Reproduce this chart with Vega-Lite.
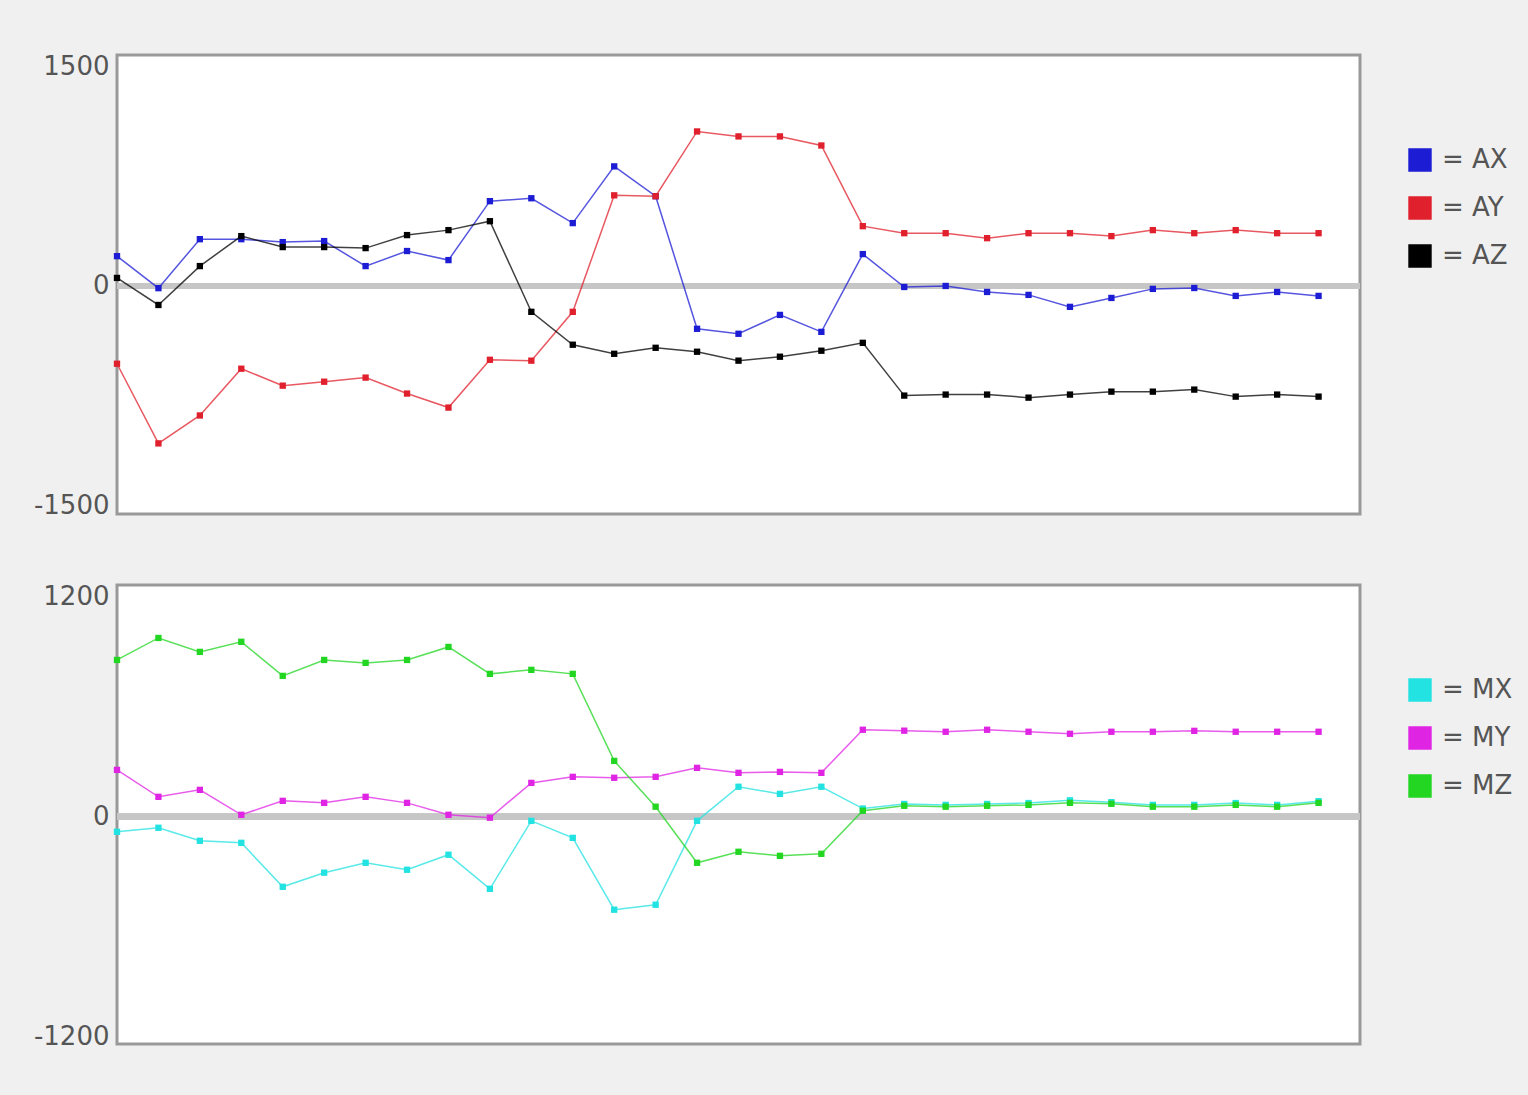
{
  "$schema": "https://vega.github.io/schema/vega-lite/v6.json",
  "background": "#f0f0f0",
  "padding": {"left": 31, "top": 52, "right": 164, "bottom": 50},
  "spacing": 62,
  "config": {
    "view": {"fill": "white", "stroke": "#999999", "strokeWidth": 3},
    "axis": {"labelFont": "DejaVu Sans", "labelFontSize": 26, "labelColor": "#555555"},
    "legend": {"labelFont": "DejaVu Sans", "labelFontSize": 26, "labelColor": "#555555"}
  },
  "datasets": {
    "acc": [
      {"i": 0, "s": "AX", "v": 204}, {"i": 1, "s": "AX", "v": -15}, {"i": 2, "s": "AX", "v": 320}, {"i": 3, "s": "AX", "v": 320}, {"i": 4, "s": "AX", "v": 300}, {"i": 5, "s": "AX", "v": 307}, {"i": 6, "s": "AX", "v": 136}, {"i": 7, "s": "AX", "v": 239}, {"i": 8, "s": "AX", "v": 177}, {"i": 9, "s": "AX", "v": 580},
      {"i": 10, "s": "AX", "v": 600}, {"i": 11, "s": "AX", "v": 430}, {"i": 12, "s": "AX", "v": 818}, {"i": 13, "s": "AX", "v": 614}, {"i": 14, "s": "AX", "v": -293}, {"i": 15, "s": "AX", "v": -327}, {"i": 16, "s": "AX", "v": -198}, {"i": 17, "s": "AX", "v": -314}, {"i": 18, "s": "AX", "v": 218}, {"i": 19, "s": "AX", "v": -7},
      {"i": 20, "s": "AX", "v": 0}, {"i": 21, "s": "AX", "v": -41}, {"i": 22, "s": "AX", "v": -61}, {"i": 23, "s": "AX", "v": -143}, {"i": 24, "s": "AX", "v": -82}, {"i": 25, "s": "AX", "v": -20}, {"i": 26, "s": "AX", "v": -14}, {"i": 27, "s": "AX", "v": -68}, {"i": 28, "s": "AX", "v": -41}, {"i": 29, "s": "AX", "v": -68},
      {"i": 0, "s": "AY", "v": -532}, {"i": 1, "s": "AY", "v": -1077}, {"i": 2, "s": "AY", "v": -886}, {"i": 3, "s": "AY", "v": -566}, {"i": 4, "s": "AY", "v": -682}, {"i": 5, "s": "AY", "v": -655}, {"i": 6, "s": "AY", "v": -627}, {"i": 7, "s": "AY", "v": -736}, {"i": 8, "s": "AY", "v": -832}, {"i": 9, "s": "AY", "v": -505},
      {"i": 10, "s": "AY", "v": -511}, {"i": 11, "s": "AY", "v": -177}, {"i": 12, "s": "AY", "v": 620}, {"i": 13, "s": "AY", "v": 614}, {"i": 14, "s": "AY", "v": 1057}, {"i": 15, "s": "AY", "v": 1023}, {"i": 16, "s": "AY", "v": 1023}, {"i": 17, "s": "AY", "v": 961}, {"i": 18, "s": "AY", "v": 409}, {"i": 19, "s": "AY", "v": 361},
      {"i": 20, "s": "AY", "v": 361}, {"i": 21, "s": "AY", "v": 327}, {"i": 22, "s": "AY", "v": 361}, {"i": 23, "s": "AY", "v": 361}, {"i": 24, "s": "AY", "v": 341}, {"i": 25, "s": "AY", "v": 382}, {"i": 26, "s": "AY", "v": 361}, {"i": 27, "s": "AY", "v": 382}, {"i": 28, "s": "AY", "v": 361}, {"i": 29, "s": "AY", "v": 361},
      {"i": 0, "s": "AZ", "v": 55}, {"i": 1, "s": "AZ", "v": -130}, {"i": 2, "s": "AZ", "v": 136}, {"i": 3, "s": "AZ", "v": 341}, {"i": 4, "s": "AZ", "v": 266}, {"i": 5, "s": "AZ", "v": 266}, {"i": 6, "s": "AZ", "v": 259}, {"i": 7, "s": "AZ", "v": 348}, {"i": 8, "s": "AZ", "v": 382}, {"i": 9, "s": "AZ", "v": 443},
      {"i": 10, "s": "AZ", "v": -177}, {"i": 11, "s": "AZ", "v": -402}, {"i": 12, "s": "AZ", "v": -464}, {"i": 13, "s": "AZ", "v": -423}, {"i": 14, "s": "AZ", "v": -450}, {"i": 15, "s": "AZ", "v": -511}, {"i": 16, "s": "AZ", "v": -484}, {"i": 17, "s": "AZ", "v": -443}, {"i": 18, "s": "AZ", "v": -389}, {"i": 19, "s": "AZ", "v": -750},
      {"i": 20, "s": "AZ", "v": -743}, {"i": 21, "s": "AZ", "v": -743}, {"i": 22, "s": "AZ", "v": -764}, {"i": 23, "s": "AZ", "v": -743}, {"i": 24, "s": "AZ", "v": -723}, {"i": 25, "s": "AZ", "v": -723}, {"i": 26, "s": "AZ", "v": -709}, {"i": 27, "s": "AZ", "v": -757}, {"i": 28, "s": "AZ", "v": -743}, {"i": 29, "s": "AZ", "v": -757}
    ],
    "mag": [
      {"i": 0, "s": "MX", "v": -82}, {"i": 1, "s": "MX", "v": -60}, {"i": 2, "s": "MX", "v": -131}, {"i": 3, "s": "MX", "v": -142}, {"i": 4, "s": "MX", "v": -382}, {"i": 5, "s": "MX", "v": -305}, {"i": 6, "s": "MX", "v": -251}, {"i": 7, "s": "MX", "v": -289}, {"i": 8, "s": "MX", "v": -207}, {"i": 9, "s": "MX", "v": -393},
      {"i": 10, "s": "MX", "v": -22}, {"i": 11, "s": "MX", "v": -115}, {"i": 12, "s": "MX", "v": -507}, {"i": 13, "s": "MX", "v": -480}, {"i": 14, "s": "MX", "v": -22}, {"i": 15, "s": "MX", "v": 164}, {"i": 16, "s": "MX", "v": 125}, {"i": 17, "s": "MX", "v": 164}, {"i": 18, "s": "MX", "v": 45}, {"i": 19, "s": "MX", "v": 70},
      {"i": 20, "s": "MX", "v": 65}, {"i": 21, "s": "MX", "v": 70}, {"i": 22, "s": "MX", "v": 75}, {"i": 23, "s": "MX", "v": 90}, {"i": 24, "s": "MX", "v": 80}, {"i": 25, "s": "MX", "v": 65}, {"i": 26, "s": "MX", "v": 65}, {"i": 27, "s": "MX", "v": 75}, {"i": 28, "s": "MX", "v": 65}, {"i": 29, "s": "MX", "v": 85},
      {"i": 0, "s": "MY", "v": 256}, {"i": 1, "s": "MY", "v": 109}, {"i": 2, "s": "MY", "v": 147}, {"i": 3, "s": "MY", "v": 11}, {"i": 4, "s": "MY", "v": 87}, {"i": 5, "s": "MY", "v": 76}, {"i": 6, "s": "MY", "v": 109}, {"i": 7, "s": "MY", "v": 76}, {"i": 8, "s": "MY", "v": 11}, {"i": 9, "s": "MY", "v": -5},
      {"i": 10, "s": "MY", "v": 185}, {"i": 11, "s": "MY", "v": 218}, {"i": 12, "s": "MY", "v": 213}, {"i": 13, "s": "MY", "v": 218}, {"i": 14, "s": "MY", "v": 267}, {"i": 15, "s": "MY", "v": 240}, {"i": 16, "s": "MY", "v": 245}, {"i": 17, "s": "MY", "v": 240}, {"i": 18, "s": "MY", "v": 475}, {"i": 19, "s": "MY", "v": 470},
      {"i": 20, "s": "MY", "v": 464}, {"i": 21, "s": "MY", "v": 475}, {"i": 22, "s": "MY", "v": 464}, {"i": 23, "s": "MY", "v": 453}, {"i": 24, "s": "MY", "v": 464}, {"i": 25, "s": "MY", "v": 464}, {"i": 26, "s": "MY", "v": 469}, {"i": 27, "s": "MY", "v": 464}, {"i": 28, "s": "MY", "v": 464}, {"i": 29, "s": "MY", "v": 464},
      {"i": 0, "s": "MZ", "v": 856}, {"i": 1, "s": "MZ", "v": 976}, {"i": 2, "s": "MZ", "v": 900}, {"i": 3, "s": "MZ", "v": 955}, {"i": 4, "s": "MZ", "v": 769}, {"i": 5, "s": "MZ", "v": 856}, {"i": 6, "s": "MZ", "v": 840}, {"i": 7, "s": "MZ", "v": 856}, {"i": 8, "s": "MZ", "v": 927}, {"i": 9, "s": "MZ", "v": 780},
      {"i": 10, "s": "MZ", "v": 802}, {"i": 11, "s": "MZ", "v": 780}, {"i": 12, "s": "MZ", "v": 305}, {"i": 13, "s": "MZ", "v": 55}, {"i": 14, "s": "MZ", "v": -251}, {"i": 15, "s": "MZ", "v": -191}, {"i": 16, "s": "MZ", "v": -213}, {"i": 17, "s": "MZ", "v": -202}, {"i": 18, "s": "MZ", "v": 33}, {"i": 19, "s": "MZ", "v": 60},
      {"i": 20, "s": "MZ", "v": 55}, {"i": 21, "s": "MZ", "v": 60}, {"i": 22, "s": "MZ", "v": 65}, {"i": 23, "s": "MZ", "v": 76}, {"i": 24, "s": "MZ", "v": 71}, {"i": 25, "s": "MZ", "v": 55}, {"i": 26, "s": "MZ", "v": 55}, {"i": 27, "s": "MZ", "v": 65}, {"i": 28, "s": "MZ", "v": 55}, {"i": 29, "s": "MZ", "v": 76}
    ]
  },
  "resolve": {"scale": {"color": "independent", "y": "independent"}, "legend": {"color": "independent"}},
  "vconcat": [
    {
      "width": 1243,
      "height": 459,
      "data": {"name": "acc"},
      "encoding": {
        "x": {"field": "i", "type": "quantitative", "scale": {"domain": [0, 30], "nice": false, "zero": false}, "axis": null},
        "y": {"field": "v", "type": "quantitative", "scale": {"domain": [-1560, 1580], "nice": false},
          "axis": {"values": [-1500, 0, 1500], "grid": false, "ticks": false, "domain": false, "labelPadding": 8, "title": null,
            "labelExpr": "datum.value == 0 ? '0' : (datum.value < 0 ? '-' : '') + abs(datum.value)"}},
        "color": {"field": "s", "type": "nominal", "scale": {"domain": ["AX", "AY", "AZ"], "range": ["#1c1cd4", "#e0202c", "#000000"]},
          "legend": {"orient": "none", "legendX": 1290, "legendY": 92, "title": null, "symbolType": "square", "symbolSize": 480, "symbolOpacity": 1, "labelOffset": 9, "rowPadding": 20, "labelExpr": "'= ' + datum.label"}}
      },
      "layer": [
        {
          "mark": {"type": "rule", "color": "#c6c6c6", "strokeWidth": 6},
          "encoding": {"y": {"datum": 0, "type": "quantitative"}, "x": null, "color": null}
        },
        {
          "mark": {"type": "line", "strokeWidth": 1.5, "opacity": 0.75}
        },
        {
          "mark": {"type": "point", "shape": "square", "filled": true, "size": 40, "opacity": 1}
        }
      ]
    },
    {
      "width": 1243,
      "height": 459,
      "data": {"name": "mag"},
      "encoding": {
        "x": {"field": "i", "type": "quantitative", "scale": {"domain": [0, 30], "nice": false, "zero": false}, "axis": null},
        "y": {"field": "v", "type": "quantitative", "scale": {"domain": [-1240, 1265], "nice": false},
          "axis": {"values": [-1200, 0, 1200], "grid": false, "ticks": false, "domain": false, "labelPadding": 8, "title": null,
            "labelExpr": "datum.value == 0 ? '0' : (datum.value < 0 ? '-' : '') + abs(datum.value)"}},
        "color": {"field": "s", "type": "nominal", "scale": {"domain": ["MX", "MY", "MZ"], "range": ["#22e2e2", "#e024e4", "#22d622"]},
          "legend": {"orient": "none", "legendX": 1290, "legendY": 92, "title": null, "symbolType": "square", "symbolSize": 480, "symbolOpacity": 1, "labelOffset": 9, "rowPadding": 20, "labelExpr": "'= ' + datum.label"}}
      },
      "layer": [
        {
          "mark": {"type": "rule", "color": "#c6c6c6", "strokeWidth": 6},
          "encoding": {"y": {"datum": 0, "type": "quantitative"}, "x": null, "color": null}
        },
        {
          "mark": {"type": "line", "strokeWidth": 1.5, "opacity": 0.75}
        },
        {
          "mark": {"type": "point", "shape": "square", "filled": true, "size": 40, "opacity": 1}
        }
      ]
    }
  ]
}
